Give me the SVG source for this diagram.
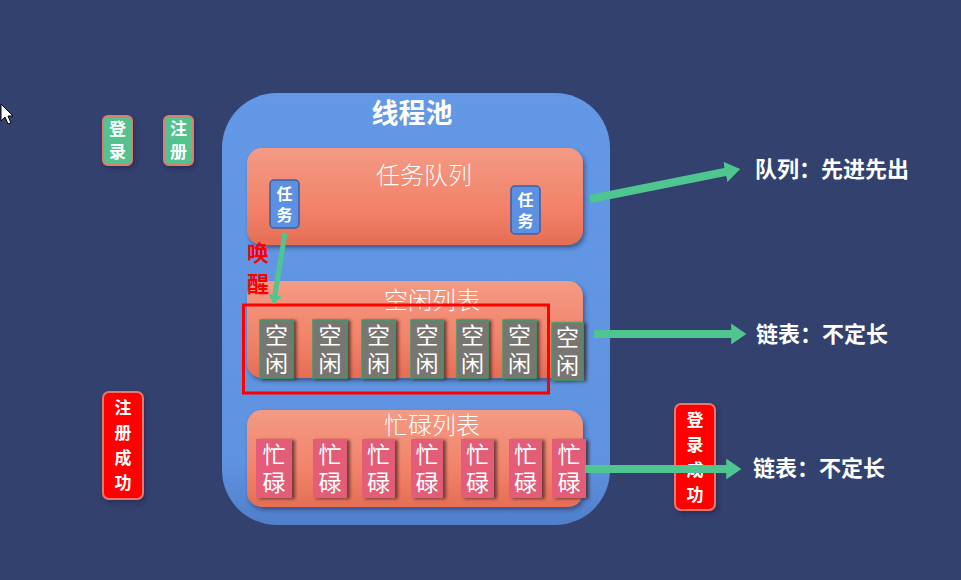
<svg xmlns="http://www.w3.org/2000/svg" width="961" height="580" viewBox="0 0 961 580">
<defs>
<linearGradient id="pool" x1="0" y1="0" x2="0" y2="1">
<stop offset="0" stop-color="#6298e6"/><stop offset="0.85" stop-color="#5f93e0"/><stop offset="1" stop-color="#4f7fcb"/>
</linearGradient>
<linearGradient id="lane" x1="0" y1="0" x2="0" y2="1">
<stop offset="0" stop-color="#f49a84"/><stop offset="0.6" stop-color="#f2836a"/><stop offset="1" stop-color="#e56e55"/>
</linearGradient>
<filter id="sh" x="-20%" y="-20%" width="150%" height="150%">
<feDropShadow dx="2" dy="3" stdDeviation="2" flood-color="#1a2040" flood-opacity="0.5"/>
</filter>
<filter id="sh2" x="-30%" y="-20%" width="160%" height="150%">
<feDropShadow dx="3" dy="1" stdDeviation="1.5" flood-color="#3a2020" flood-opacity="0.7"/>
</filter>
<marker id="ah" markerWidth="2.6" markerHeight="2.6" refX="0.6" refY="1.3" orient="auto" markerUnits="strokeWidth">
<path d="M0,0 L1.9,1.3 L0,2.6 Z" fill="#4fc68f"/>
</marker>
</defs>
<style>
text{font-family:"Noto Sans CJK SC","Noto Sans",sans-serif;fill:#fff;text-anchor:middle}
.v{writing-mode:vertical-rl;text-orientation:upright}
.b{font-weight:bold}
.lane{fill:url(#lane);filter:url(#sh)}
.lt{font-size:24px;font-weight:300}
.idle rect{fill:#787670;stroke:#3e9a6a;stroke-width:1.5;filter:url(#sh2)}
.idle text,.busy text{font-size:23px;letter-spacing:5px}
.busy rect{fill:#e35c78;filter:url(#sh2)}
.task rect{fill:#5b90e2;stroke:#3d5fa2;stroke-width:1.5}
.task text{font-size:16px;font-weight:bold;letter-spacing:5px}
.gbtn rect{fill:#52c28e;stroke:#e07b6c;stroke-width:2;filter:url(#sh)}
.rbtn rect{fill:#ff0000;stroke:#e9786b;stroke-width:2;filter:url(#sh)}
.gbtn text,.rbtn text{font-size:17px;font-weight:bold}
.gbtn text{letter-spacing:6px}
.rbtn text{letter-spacing:8px}
.note{font-size:22px;font-weight:bold;text-anchor:start}
.conn line{stroke:#4fc68f;stroke-width:8}
</style>
<rect width="961" height="580" fill="#33416f"/>
<path id="cursor" d="M1,104 L1,121 L5,117 L8,124 L11,123 L8,116 L13,116 Z" fill="#fff" stroke="#000" stroke-width="1"/>

<g id="pool"><rect x="222" y="93" width="388" height="432" rx="55" fill="url(#pool)"/>
<text x="412" y="123" class="b" font-size="27">线程池</text></g>

<g id="taskQueue"><rect class="lane" x="247" y="148" width="336" height="97" rx="15"/>
<text x="424" y="184" class="lt">任务队列</text></g>
<g id="task1" class="task"><rect x="270" y="180" width="29" height="48" rx="4"/><text class="v" x="284.5" y="206.5">任务</text></g>
<g id="task2" class="task"><rect x="511" y="186" width="29" height="48" rx="4"/><text class="v" x="525.5" y="212.5">任务</text></g>

<g id="idleList"><rect class="lane" x="247" y="281" width="336" height="97" rx="15"/>
<text x="432" y="309" class="lt" font-size="25">空闲列表</text></g>
<g id="idleItems" class="idle">
<g id="idle1"><rect x="260" y="320" width="33" height="58"/><text class="v" x="276.5" y="351.5">空闲</text></g>
<g id="idle2"><rect x="313" y="320" width="34" height="58"/><text class="v" x="330" y="351.5">空闲</text></g>
<g id="idle3"><rect x="362" y="320" width="33" height="58"/><text class="v" x="378.5" y="351.5">空闲</text></g>
<g id="idle4"><rect x="411" y="320" width="32" height="58"/><text class="v" x="427" y="351.5">空闲</text></g>
<g id="idle5"><rect x="457" y="320" width="31" height="58"/><text class="v" x="472.5" y="351.5">空闲</text></g>
<g id="idle6"><rect x="503" y="320" width="33" height="58"/><text class="v" x="519.5" y="351.5">空闲</text></g>
<g id="idle7"><rect x="552" y="323" width="31" height="57"/><text class="v" x="567.5" y="354">空闲</text></g>
</g>
<rect id="highlight" x="243.5" y="305" width="305" height="88" fill="none" stroke="#ff0000" stroke-width="3"/>

<g id="busyList"><rect class="lane" x="247" y="410" width="336" height="97" rx="15"/>
<text x="432" y="434" class="lt" font-size="25">忙碌列表</text></g>
<g id="busyItems" class="busy">
<g id="busy1"><rect x="256" y="439" width="36" height="59"/><text class="v" x="274" y="471">忙碌</text></g>
<g id="busy2"><rect x="313" y="439" width="34" height="59"/><text class="v" x="330" y="471">忙碌</text></g>
<g id="busy3"><rect x="362" y="439" width="33" height="59"/><text class="v" x="378.5" y="471">忙碌</text></g>
<g id="busy4"><rect x="411" y="439" width="32" height="59"/><text class="v" x="427" y="471">忙碌</text></g>
<g id="busy5"><rect x="461" y="439" width="33" height="59"/><text class="v" x="477.5" y="471">忙碌</text></g>
<g id="busy6"><rect x="509" y="439" width="33" height="59"/><text class="v" x="525.5" y="471">忙碌</text></g>
<g id="busy7"><rect x="552" y="439" width="34" height="59"/><text class="v" x="569" y="471">忙碌</text></g>
</g>

<g id="login" class="gbtn"><rect x="103" y="116" width="29" height="49" rx="5"/><text class="v" x="117.5" y="143.5">登录</text></g>
<g id="register" class="gbtn"><rect x="164" y="116" width="29" height="49" rx="5"/><text class="v" x="178.5" y="143.5">注册</text></g>
<g id="regOk" class="rbtn"><rect x="103" y="392" width="40" height="107" rx="6"/><text class="v" x="123" y="449.5">注册成功</text></g>
<g id="loginOk" class="rbtn"><rect x="675" y="404" width="40" height="106" rx="6"/><text class="v" x="695" y="461">登录成功</text></g>

<g id="wakeLabel"><text class="v b" x="258" y="273" font-size="22" style="fill:#ff0000;letter-spacing:9px">唤醒</text></g>

<g id="connectors" class="conn">
<line x1="285" y1="233" x2="274.5" y2="298" style="stroke-width:5" marker-end="url(#ah)"/>
<line x1="590" y1="199" x2="730" y2="171" marker-end="url(#ah)"/>
<line x1="594" y1="334" x2="736" y2="334" marker-end="url(#ah)"/>
<line x1="585" y1="469" x2="731" y2="469" marker-end="url(#ah)"/>
</g>

<g id="notes">
<text x="755" y="177" class="note">队列：先进先出</text>
<text x="756" y="342" class="note">链表：不定长</text>
<text x="753" y="476" class="note">链表：不定长</text>
</g>
</svg>
